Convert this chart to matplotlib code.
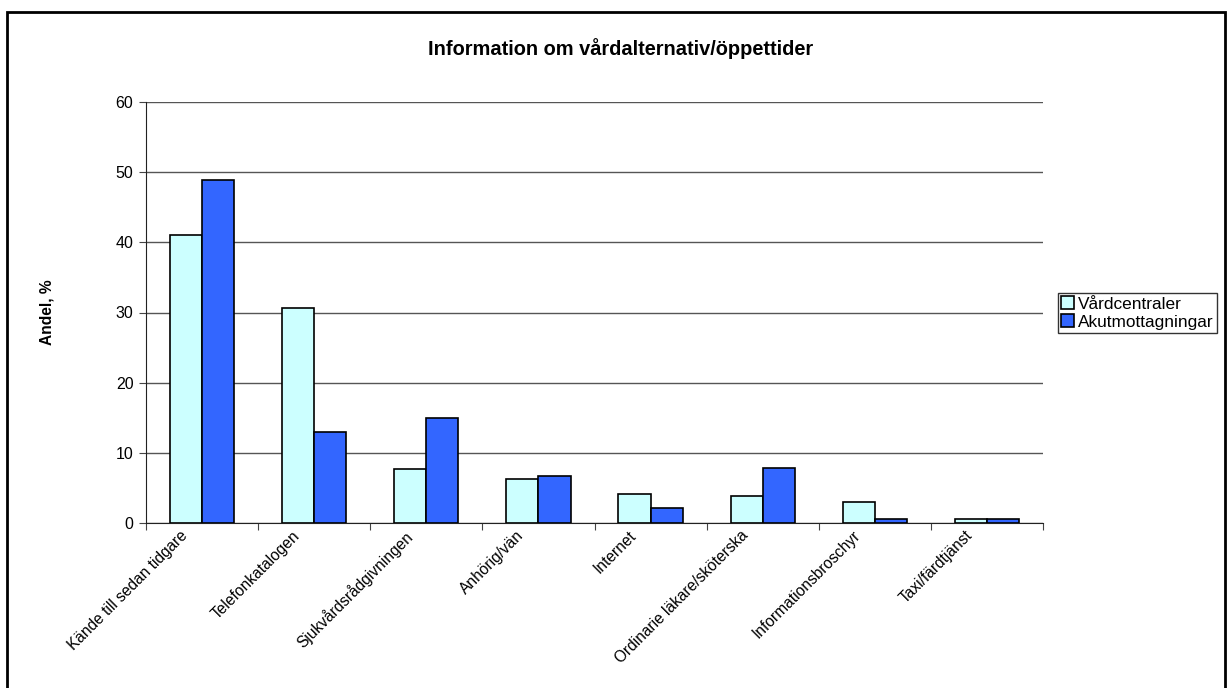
import matplotlib
matplotlib.use("Agg")
import matplotlib.pyplot as plt
import numpy as np
from matplotlib.patches import Rectangle
import matplotlib.transforms as mtransforms

plt.rcParams['font.family'] = ['Liberation Sans', 'DejaVu Sans']

categories = ["Kände till sedan tidgare", "Telefonkatalogen", "Sjukvårdsrådgivningen",
              "Anhörig/vän", "Internet", "Ordinarie läkare/sköterska",
              "Informationsbroschyr", "Taxi/färdtjänst"]
vardcentraler = [41.0, 30.7, 7.7, 6.3, 4.2, 3.8, 3.0, 0.5]
akutmottagningar = [48.9, 13.0, 15.0, 6.7, 2.1, 7.8, 0.5, 0.5]
series_names = ["Vårdcentraler", "Akutmottagningar"]
colors = ["#CCFFFF", "#3366FF"]
yticks = [0, 10, 20, 30, 40, 50, 60]

W, H = 1232, 688
fig = plt.figure(figsize=(W / 100, H / 100), dpi=100)
ax = fig.add_axes([146 / W, 1 - 523 / H, (1043 - 146) / W, (523 - 102) / H])

x = np.arange(len(categories))
bw = 0.286
ax.bar(x - bw / 2, vardcentraler, bw, color=colors[0], edgecolor='black', linewidth=1.2,
       label=series_names[0], zorder=3)
ax.bar(x + bw / 2, akutmottagningar, bw, color=colors[1], edgecolor='black', linewidth=1.2,
       label=series_names[1], zorder=3)

ax.set_xlim(-0.5, len(categories) - 0.5)
ax.set_ylim(0, 60)
ax.set_yticks(yticks)
ax.set_yticklabels([str(v) for v in yticks], fontsize=11.5)
ax.yaxis.grid(True, color='#555555', linewidth=1.0, zorder=0)
ax.set_axisbelow(True)

# category ticks between groups
ax.set_xticks(np.arange(-0.5, len(categories) + 0.5, 1.0))
ax.set_xticklabels([])
ax.tick_params(axis='x', direction='out', length=5, color='#444444')
ax.tick_params(axis='y', direction='out', length=5, color='#444444', pad=4)

offset = mtransforms.ScaledTranslation(-22 / 100, -5 / 100, fig.dpi_scale_trans)
for i, c in enumerate(categories):
    ax.text(i, 0, c, rotation=45, ha='right', va='top', rotation_mode='anchor',
            fontsize=11.2, transform=ax.get_xaxis_transform() + offset)

for s in ['top', 'right']:
    ax.spines[s].set_visible(False)
ax.spines['left'].set_color('#222222')
ax.spines['bottom'].set_color('#222222')

ax.set_ylabel("Andel, %", fontsize=11.2, fontweight='bold', labelpad=0)
ax.yaxis.set_label_coords(-92 / (1043 - 146), 0.5)

fig.text(621 / W, 1 - 49 / H, "Information om vårdalternativ/öppettider", ha='center', va='center',
         fontsize=14.4, fontweight='bold')

leg = ax.legend(loc='center left', bbox_to_anchor=(1058 / W, 1 - 313 / H),
                bbox_transform=fig.transFigure, frameon=True, fancybox=False,
                edgecolor='black', fontsize=12.4, handlelength=0.75, handleheight=0.75,
                handletextpad=0.2, borderpad=0.2, labelspacing=0.15, borderaxespad=0)
leg.get_frame().set_linewidth(1.0)

fig.patches.append(Rectangle((7 / W, -0.05), (1225 - 7) / W, 1.05 - 12 / H,
                             transform=fig.transFigure, fill=False, edgecolor='black',
                             linewidth=2.0))

fig.savefig("out.png", dpi=100)
